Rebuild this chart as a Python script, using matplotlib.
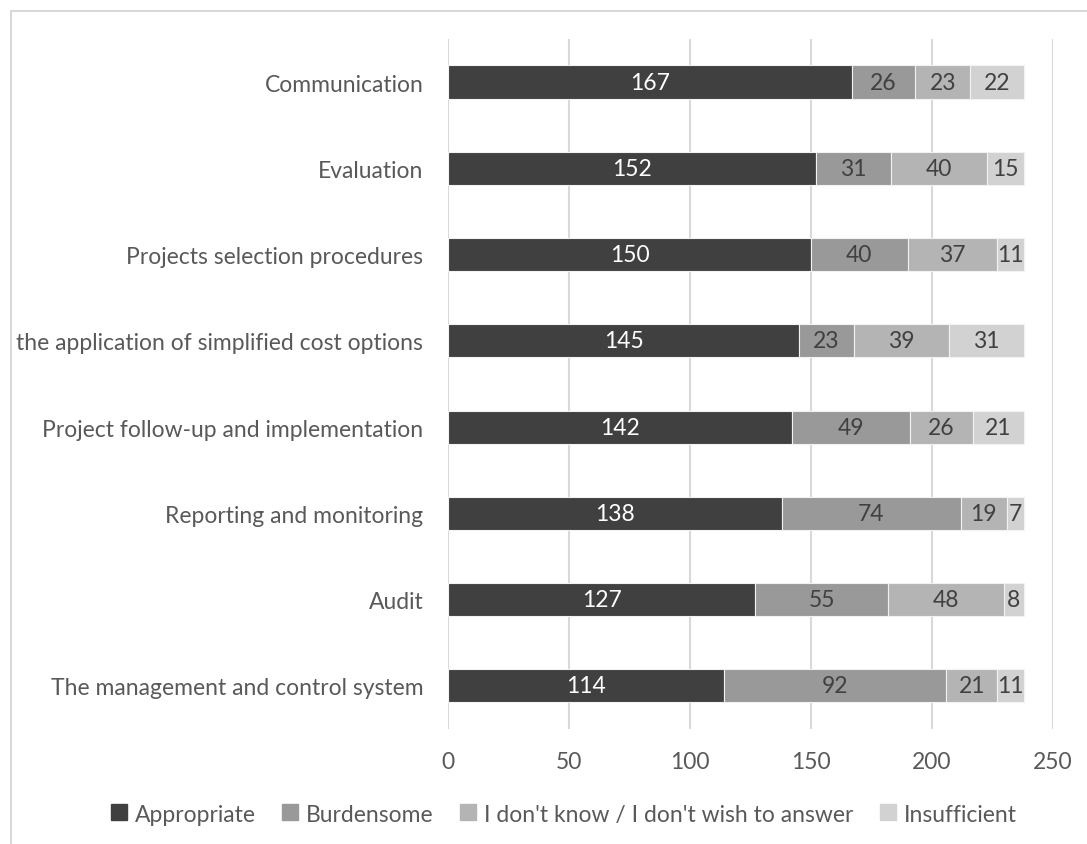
import matplotlib.pyplot as plt
from matplotlib.lines import Line2D
import numpy as np

plt.rcParams["font.family"] = ["Lato", "DejaVu Sans"]

# Categories listed bottom to top
categories = [
    "The management and control system",
    "Audit",
    "Reporting and monitoring",
    "Project follow-up and implementation",
    "the application of simplified cost options",
    "Projects selection procedures",
    "Evaluation",
    "Communication",
]
appropriate = [114, 127, 138, 142, 145, 150, 152, 167]
burdensome = [92, 55, 74, 49, 23, 40, 31, 26]
dont_know = [21, 48, 19, 26, 39, 37, 40, 23]
insufficient = [11, 8, 7, 21, 31, 11, 15, 22]

series_names = ["Appropriate", "Burdensome",
                "I don't know / I don't wish to answer", "Insufficient"]
series = [appropriate, burdensome, dont_know, insufficient]
colors = ["#404040", "#999999", "#b4b4b4", "#d2d2d2"]
text_colors = ["white", "#404040", "#404040", "#404040"]


def main():
    fig = plt.figure(figsize=(10.87, 8.45), dpi=100)
    ax = fig.add_axes([0.4124, 0.1361, 0.5560, 0.8166])

    y = np.arange(len(categories))
    left = np.zeros(len(categories))
    for vals, name, col, tcol in zip(series, series_names, colors, text_colors):
        vals = np.array(vals)
        bars = ax.barh(y, vals, left=left, height=0.385, color=col,
                       edgecolor="#f2f2f2", linewidth=0.8, label=name, zorder=3)
        ax.bar_label(bars, labels=[str(v) for v in vals], label_type="center",
                     color=tcol, fontsize=16.5)
        left += vals

    ax.set_xlim(0, 250)
    ax.set_ylim(-0.5, len(categories) - 0.5)
    ax.set_xticks([0, 50, 100, 150, 200, 250])
    ax.set_yticks(y)
    ax.set_yticklabels(categories)
    ax.tick_params(axis="both", length=0, labelsize=16.5, colors="#595959")
    ax.tick_params(axis="y", pad=18)
    ax.tick_params(axis="x", pad=16)
    ax.xaxis.grid(True, color="#d9d9d9", linewidth=1.5, zorder=0)
    for s in ax.spines.values():
        s.set_visible(False)

    handles = [
        Line2D([0], [0], marker="s", color="w", markerfacecolor=c,
               markeredgecolor=c, markersize=11, linewidth=0, label=n)
        for c, n in zip(colors, series_names)
    ]
    leg = fig.legend(handles=handles, loc="center", ncol=4,
                     bbox_to_anchor=(0.518, 0.0355), frameon=False,
                     fontsize=16.5, handlelength=0.8, handletextpad=0.3,
                     columnspacing=1.1)
    for t in leg.get_texts():
        t.set_color("#595959")

    # chart area border (top and left edges visible)
    fig.add_artist(Line2D([0.0101, 0.0101, 1.0], [0.0, 0.9858, 0.9858],
                          transform=fig.transFigure, color="#d9d9d9",
                          linewidth=1.5))

    fig.savefig("out.png", dpi=100)


if __name__ == "__main__":
    main()
